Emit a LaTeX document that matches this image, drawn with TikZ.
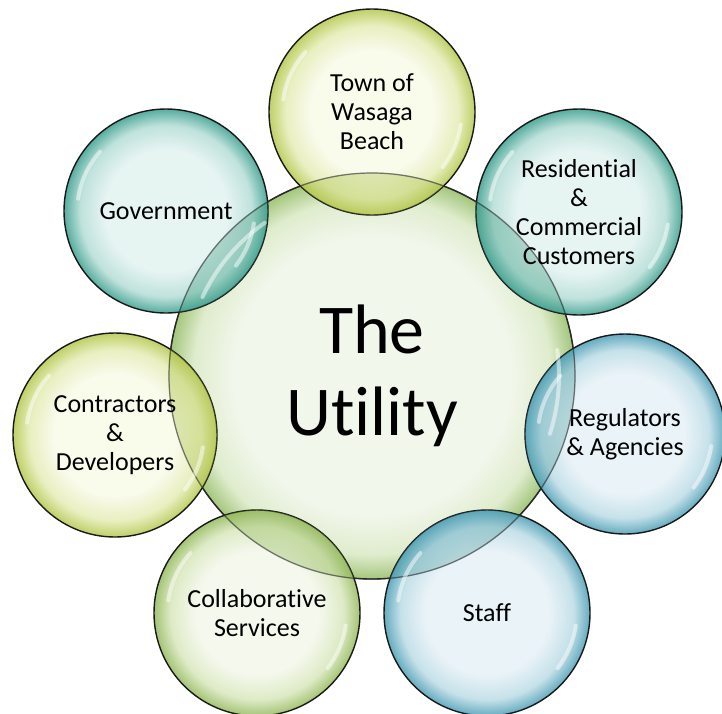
\documentclass[tikz,border=0pt]{standalone}
\usepackage{fontspec}
\setmainfont{Carlito}[Ligatures=NoCommon]
\usetikzlibrary{calc}
\definecolor{ygin}{HTML}{F8FAE8}\definecolor{ygmid}{HTML}{E4ECB4}\definecolor{ygout}{HTML}{B4C74C}
\definecolor{grin}{HTML}{F2F7EA}\definecolor{grmid}{HTML}{D8E7BC}\definecolor{grout}{HTML}{94B95C}
\definecolor{ctin}{HTML}{F2F7EC}\definecolor{ctmid}{HTML}{DFECCD}\definecolor{ctout}{HTML}{A4C67C}
\definecolor{tlin}{HTML}{E2F2F0}\definecolor{tlmid}{HTML}{B4DDD6}\definecolor{tlout}{HTML}{3A9E8E}
\definecolor{blin}{HTML}{E6F1F6}\definecolor{blmid}{HTML}{BCDCE6}\definecolor{blout}{HTML}{4A9DB5}
\pgfdeclareradialshading{ygshade}{\pgfpoint{0bp}{0bp}}{color(0bp)=(ygin); color(15bp)=(ygin); color(21bp)=(ygmid); color(25bp)=(ygout); color(50bp)=(ygout)}
\pgfdeclareradialshading{grshade}{\pgfpoint{0bp}{0bp}}{color(0bp)=(grin); color(15bp)=(grin); color(21bp)=(grmid); color(25bp)=(grout); color(50bp)=(grout)}
\pgfdeclareradialshading{ctshade}{\pgfpoint{0bp}{0bp}}{color(0bp)=(ctin); color(17bp)=(ctin); color(22bp)=(ctmid); color(25bp)=(ctout); color(50bp)=(ctout)}
\pgfdeclareradialshading{tlshade}{\pgfpoint{0bp}{0bp}}{color(0bp)=(tlin); color(15bp)=(tlin); color(21bp)=(tlmid); color(25bp)=(tlout); color(50bp)=(tlout)}
\pgfdeclareradialshading{blshade}{\pgfpoint{0bp}{0bp}}{color(0bp)=(blin); color(15bp)=(blin); color(21bp)=(blmid); color(25bp)=(blout); color(50bp)=(blout)}
\begin{document}
\begin{tikzpicture}[x=1pt,y=-1pt,
  bubble/.style={circle, inner sep=0pt, draw=black!90, line width=1.4pt, shade, shading=#1},
  sat/.style={bubble=#1, fill opacity=0.85, draw opacity=1, minimum size=206pt},
  lbl/.style={align=center, inner sep=0pt, font=\fontsize{26}{29}\selectfont},
  gloss/.style={white, opacity=0.5, line width=4pt, line cap=round}]
\useasboundingbox (0,0) rectangle (722,713);
% central
\node[bubble=ctshade, minimum size=406pt, align=center, font=\fontsize{70}{82}\selectfont] (util) at (372,376) {The\\Utility};
% satellites
\node[sat=ygshade] (town) at (372,112) {};
\node[sat=tlshade] (res) at (579,212) {};
\node[sat=blshade, minimum size=200pt] (reg) at (625,434) {};
\node[sat=blshade] (staff) at (487,613) {};
\node[sat=grshade] (collab) at (257,613) {};
\node[sat=ygshade, minimum size=204pt] (contr) at (115,435) {};
\node[sat=tlshade, minimum size=204pt] (gov) at (166,211) {};
% darker tint where the bubbles overlap the centre
\foreach \n/\r/\c in {town/103/ygout,res/103/tlout,reg/100/blout,staff/103/blout,collab/103/grout,contr/102/ygout,gov/102/tlout}{
  \begin{scope}
    \clip (util.center) circle[radius=203];
    \fill[\c, fill opacity=0.28] (\n.center) circle[radius=\r];
  \end{scope}
}
% central rim seen through the bubbles
\draw[black!80, draw opacity=0.6, line width=1.2pt] (util.center) circle[radius=203];
% glossy highlights
\draw[gloss] ($(util.center)+(205:187)$) arc[start angle=205, end angle=235, radius=187];
\draw[gloss] ($(util.center)+(-8:187)$) arc[start angle=-8, end angle=18, radius=187];
\foreach \n/\r in {town/103,res/103,reg/100,staff/103,collab/103,contr/102,gov/102}{
  \draw[gloss] ($(\n.center)+(188:0.87*\r)$) arc[start angle=188, end angle=222, radius=0.87*\r];
  \draw[gloss] ($(\n.center)+(8:0.87*\r)$) arc[start angle=8, end angle=38, radius=0.87*\r];
}
% labels
\node[lbl] (townT) at (town.center) {Town of\\Wasaga\\Beach};
\node[lbl] (resT) at (res.center) {Residential\\\&\\Commercial\\Customers};
\node[lbl] (regT) at (reg.center) {Regulators\\\& Agencies};
\node[lbl] (staffT) at (staff.center) {Staff};
\node[lbl] (collabT) at (collab.center) {Collaborative\\Services};
\node[lbl] (contrT) at (contr.center) {Contractors\\\&\\Developers};
\node[lbl] (govT) at (gov.center) {Government};
\end{tikzpicture}
\end{document}
